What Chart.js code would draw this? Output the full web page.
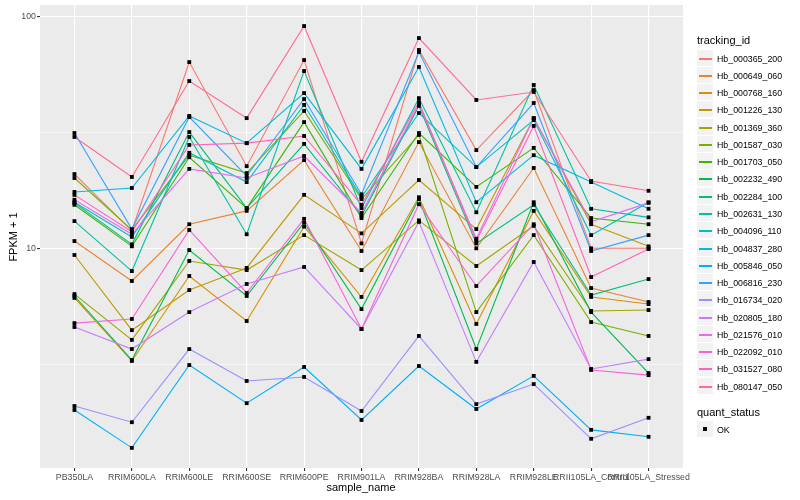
<!DOCTYPE html>
<html><head><meta charset="utf-8">
<script src="https://cdn.jsdelivr.net/npm/chart.js@4.4.1/dist/chart.umd.min.js"></script>
<style>
html,body{margin:0;padding:0;background:#fff;}
#wrap{position:relative;width:800px;height:500px;font-family:"Liberation Sans",Arial,Helvetica,sans-serif;overflow:hidden;}
#c{position:absolute;left:0;top:0;}
.t{position:absolute;white-space:nowrap;color:#000;}
.key{position:absolute;background:#F2F2F2;}
.kl{position:absolute;}
</style></head><body>
<div id="wrap">
<canvas id="c" width="800" height="500"></canvas>
<div class="t" id="ytitle" style="font-size:11px;line-height:14px;left:-12px;top:230px;width:50px;height:14px;text-align:center;transform:rotate(-90deg);">FPKM + 1</div>
<div class="t" style="font-size:11px;line-height:13px;left:311px;top:481px;width:100px;text-align:center;">sample_name</div>
<div id="legend"></div>
</div>
<script>
const samples = ["PB350LA","RRIM600LA","RRIM600LE","RRIM600SE","RRIM600PE","RRIM901LA","RRIM928BA","RRIM928LA","RRIM928LE","RRII105LA_Control","RRII105LA_Stressed"];
const trackingIds = ["Hb_000365_200","Hb_000649_060","Hb_000768_160","Hb_001226_130","Hb_001369_360","Hb_001587_030","Hb_001703_050","Hb_002232_490","Hb_002284_100","Hb_002631_130","Hb_004096_110","Hb_004837_280","Hb_005846_050","Hb_006816_230","Hb_016734_020","Hb_020805_180","Hb_021576_010","Hb_022092_010","Hb_031527_080","Hb_080147_050"];
const quantStatus = ["OK"];
const yMajorTicks = [10, 100];
const yMinorTicks = [3.1623, 31.623];

const hb_000365_200 = [20.9, 11.9, 63.5, 22.6, 64.8, 10.5, 71.6, 26.5, 48.1, 10.0, 10.0];
const hb_000649_060 = [10.75, 7.23, 12.7, 14.5, 24.0, 9.74, 28.7, 10.0, 22.2, 6.74, 5.87];
const hb_000768_160 = [6.11, 3.27, 7.60, 4.86, 12.4, 6.17, 16.6, 4.72, 14.5, 6.17, 5.75];
const hb_001226_130 = [9.36, 4.44, 6.61, 8.23, 17.0, 11.6, 19.7, 12.1, 36.4, 12.7, 10.2];
const hb_001369_360 = [6.35, 4.03, 8.82, 8.06, 11.4, 8.06, 13.2, 8.39, 12.5, 5.37, 5.42];
const hb_001587_030 = [20.1, 12.0, 25.2, 21.1, 39.1, 16.3, 30.8, 5.31, 11.4, 4.81, 4.19];
const hb_001703_050 = [15.4, 10.2, 24.7, 14.9, 35.0, 13.5, 31.4, 18.4, 27.1, 13.5, 12.7];
const hb_002232_490 = [6.23, 3.30, 9.83, 6.23, 12.9, 5.47, 16.3, 3.68, 15.8, 5.31, 2.90];
const hb_002284_100 = [15.7, 10.4, 31.7, 14.9, 28.2, 13.8, 41.1, 10.5, 15.4, 6.29, 7.37];
const hb_002631_130 = [13.1, 7.98, 30.2, 11.5, 58.1, 14.9, 44.4, 14.3, 50.6, 14.8, 13.6];
const hb_004096_110 = [15.8, 11.2, 25.8, 19.3, 41.5, 16.6, 38.3, 22.4, 35.7, 11.4, 15.8];
const hb_004837_280 = [17.5, 18.2, 37.2, 28.4, 46.7, 22.0, 60.5, 15.8, 25.2, 19.3, 14.8];
const hb_005846_050 = [2.01, 1.38, 3.14, 2.15, 3.08, 1.82, 3.11, 2.03, 2.82, 1.65, 1.54];
const hb_006816_230 = [31.4, 12.1, 36.8, 20.5, 44.0, 17.1, 70.2, 22.4, 42.3, 9.74, 11.4];
const hb_016734_020 = [2.09, 1.78, 3.68, 2.68, 2.79, 1.99, 4.19, 2.13, 2.60, 1.51, 1.86];
const hb_020805_180 = [4.58, 3.68, 5.31, 7.02, 8.31, 4.49, 13.0, 3.24, 8.73, 3.02, 3.33];
const hb_021576_010 = [16.2, 11.5, 22.0, 20.1, 25.0, 14.2, 41.9, 11.0, 36.4, 13.0, 15.7];
const hb_022092_010 = [4.76, 4.96, 12.0, 6.42, 13.4, 4.49, 15.5, 6.88, 12.7, 2.99, 2.84];
const hb_031527_080 = [17.0, 11.8, 27.9, 28.4, 30.5, 15.4, 42.7, 10.75, 33.7, 7.52, 9.93];
const hb_080147_050 = [30.2, 20.3, 52.6, 36.4, 90.8, 23.6, 80.6, 43.6, 47.2, 19.5, 17.7];

const seriesValues = [hb_000365_200, hb_000649_060, hb_000768_160, hb_001226_130, hb_001369_360, hb_001587_030, hb_001703_050, hb_002232_490, hb_002284_100, hb_002631_130, hb_004096_110, hb_004837_280, hb_005846_050, hb_006816_230, hb_016734_020, hb_020805_180, hb_021576_010, hb_022092_010, hb_031527_080, hb_080147_050];
const seriesColors = ["#F8766D","#EA8331","#D89000","#C09B00","#A3A500","#7CAE00","#39B600","#00BB4E","#00BF7D","#00C1A3","#00BFC4","#00BAE0","#00B0F6","#35A2FF","#9590FF","#C77CFF","#E76BF3","#FA62DB","#FF62BC","#FF6C91"];

Chart.defaults.font.family = '"Liberation Sans", Arial, Helvetica, sans-serif';

const datasets = [];
seriesValues.forEach((vals, i) => {
  datasets.push({
    label: trackingIds[i],
    data: vals.map((v, j) => ({x: j, y: v})),
    showLine: true, borderColor: seriesColors[i], backgroundColor: seriesColors[i],
    borderWidth: 1.1, pointRadius: 0, tension: 0, fill: false, order: 100 - i
  });
});
seriesValues.forEach((vals, i) => {
  datasets.push({
    label: trackingIds[i] + " " + quantStatus[0],
    data: vals.map((v, j) => ({x: j, y: v})),
    showLine: false, pointStyle: 'rect', pointRadius: 2.7,
    pointBackgroundColor: '#000000', pointBorderWidth: 0, borderColor: '#000000', order: 0
  });
});

const panelBg = {
  id: 'panelBg',
  beforeDraw(chart) {
    const {ctx, chartArea: a} = chart;
    ctx.save();
    ctx.fillStyle = '#FFFFFF';
    ctx.fillRect(0, 0, chart.width, chart.height);
    ctx.fillStyle = '#EBEBEB';
    ctx.fillRect(a.left, a.top, a.right - a.left, a.bottom - a.top);
    ctx.restore();
  }
};
const isMajor = v => yMajorTicks.includes(v);

new Chart(document.getElementById('c'), {
  type: 'scatter',
  data: { datasets },
  options: {
    responsive: false, animation: false, devicePixelRatio: 1,
    layout: { padding: { left: 0, top: 5, right: 117, bottom: 0 } },
    plugins: { legend: { display: false }, tooltip: { enabled: false } },
    scales: {
      x: {
        type: 'linear', min: -0.6, max: 10.6,
        afterBuildTicks: s => { s.ticks = samples.map((_, i) => ({value: i})); },
        afterFit: s => { s.height = 32; s.paddingLeft = 0; s.paddingRight = 0; },
        ticks: { callback: v => samples[v] !== undefined ? samples[v] : '', autoSkip: false, maxRotation: 0, minRotation: 0, color: '#4D4D4D', font: { size: 8.8 }, padding: 1 },
        grid: { color: '#FFFFFF', lineWidth: 1.1, tickColor: '#333333', tickLength: 3, drawTicks: true },
        border: { display: false }
      },
      y: {
        type: 'logarithmic', min: 1.13, max: 111.9,
        afterBuildTicks: s => { s.ticks = yMinorTicks.concat(yMajorTicks).sort((a, b) => a - b).map(v => ({value: v})); },
        afterFit: s => { s.width = 40; s.paddingTop = 0; s.paddingBottom = 0; },
        ticks: { callback: v => isMajor(v) ? String(v) : '', color: '#4D4D4D', font: { size: 8.8 }, padding: 1 },
        grid: {
          color: '#FFFFFF',
          lineWidth: c => (c.tick && isMajor(c.tick.value)) ? 1.1 : 0.55,
          tickColor: c => (c.tick && isMajor(c.tick.value)) ? '#333333' : 'rgba(0,0,0,0)',
          tickLength: 3, drawTicks: true
        },
        border: { display: false }
      }
    }
  },
  plugins: [panelBg]
});

// legend
const leg = document.getElementById('legend');
function addDiv(cls, style, text) {
  const d = document.createElement('div');
  d.className = cls;
  Object.assign(d.style, style);
  if (text !== undefined) d.textContent = text;
  leg.appendChild(d);
  return d;
}
addDiv('t', {left: '697px', top: '33.5px', fontSize: '11px', lineHeight: '13px'}, 'tracking_id');
trackingIds.forEach((id, i) => {
  const cy = Math.round(57.6 + i * 17.27);
  addDiv('key', {left: '697px', top: (cy - 8) + 'px', width: '16px', height: '16px'});
  addDiv('kl', {left: '699px', top: cy + 'px', width: '13px', height: '1.5px', background: seriesColors[i]});
  addDiv('t', {left: '717px', top: (cy - 5.5) + 'px', fontSize: '8.8px', lineHeight: '12px'}, id);
});
addDiv('t', {left: '697px', top: '405.5px', fontSize: '11px', lineHeight: '13px'}, 'quant_status');
addDiv('key', {left: '697px', top: '421px', width: '16px', height: '16px'});
addDiv('kl', {left: '703px', top: '427px', width: '4px', height: '4px', background: '#000'});
addDiv('t', {left: '717px', top: '423.5px', fontSize: '8.8px', lineHeight: '12px'}, quantStatus[0]);
</script>
</body></html>
